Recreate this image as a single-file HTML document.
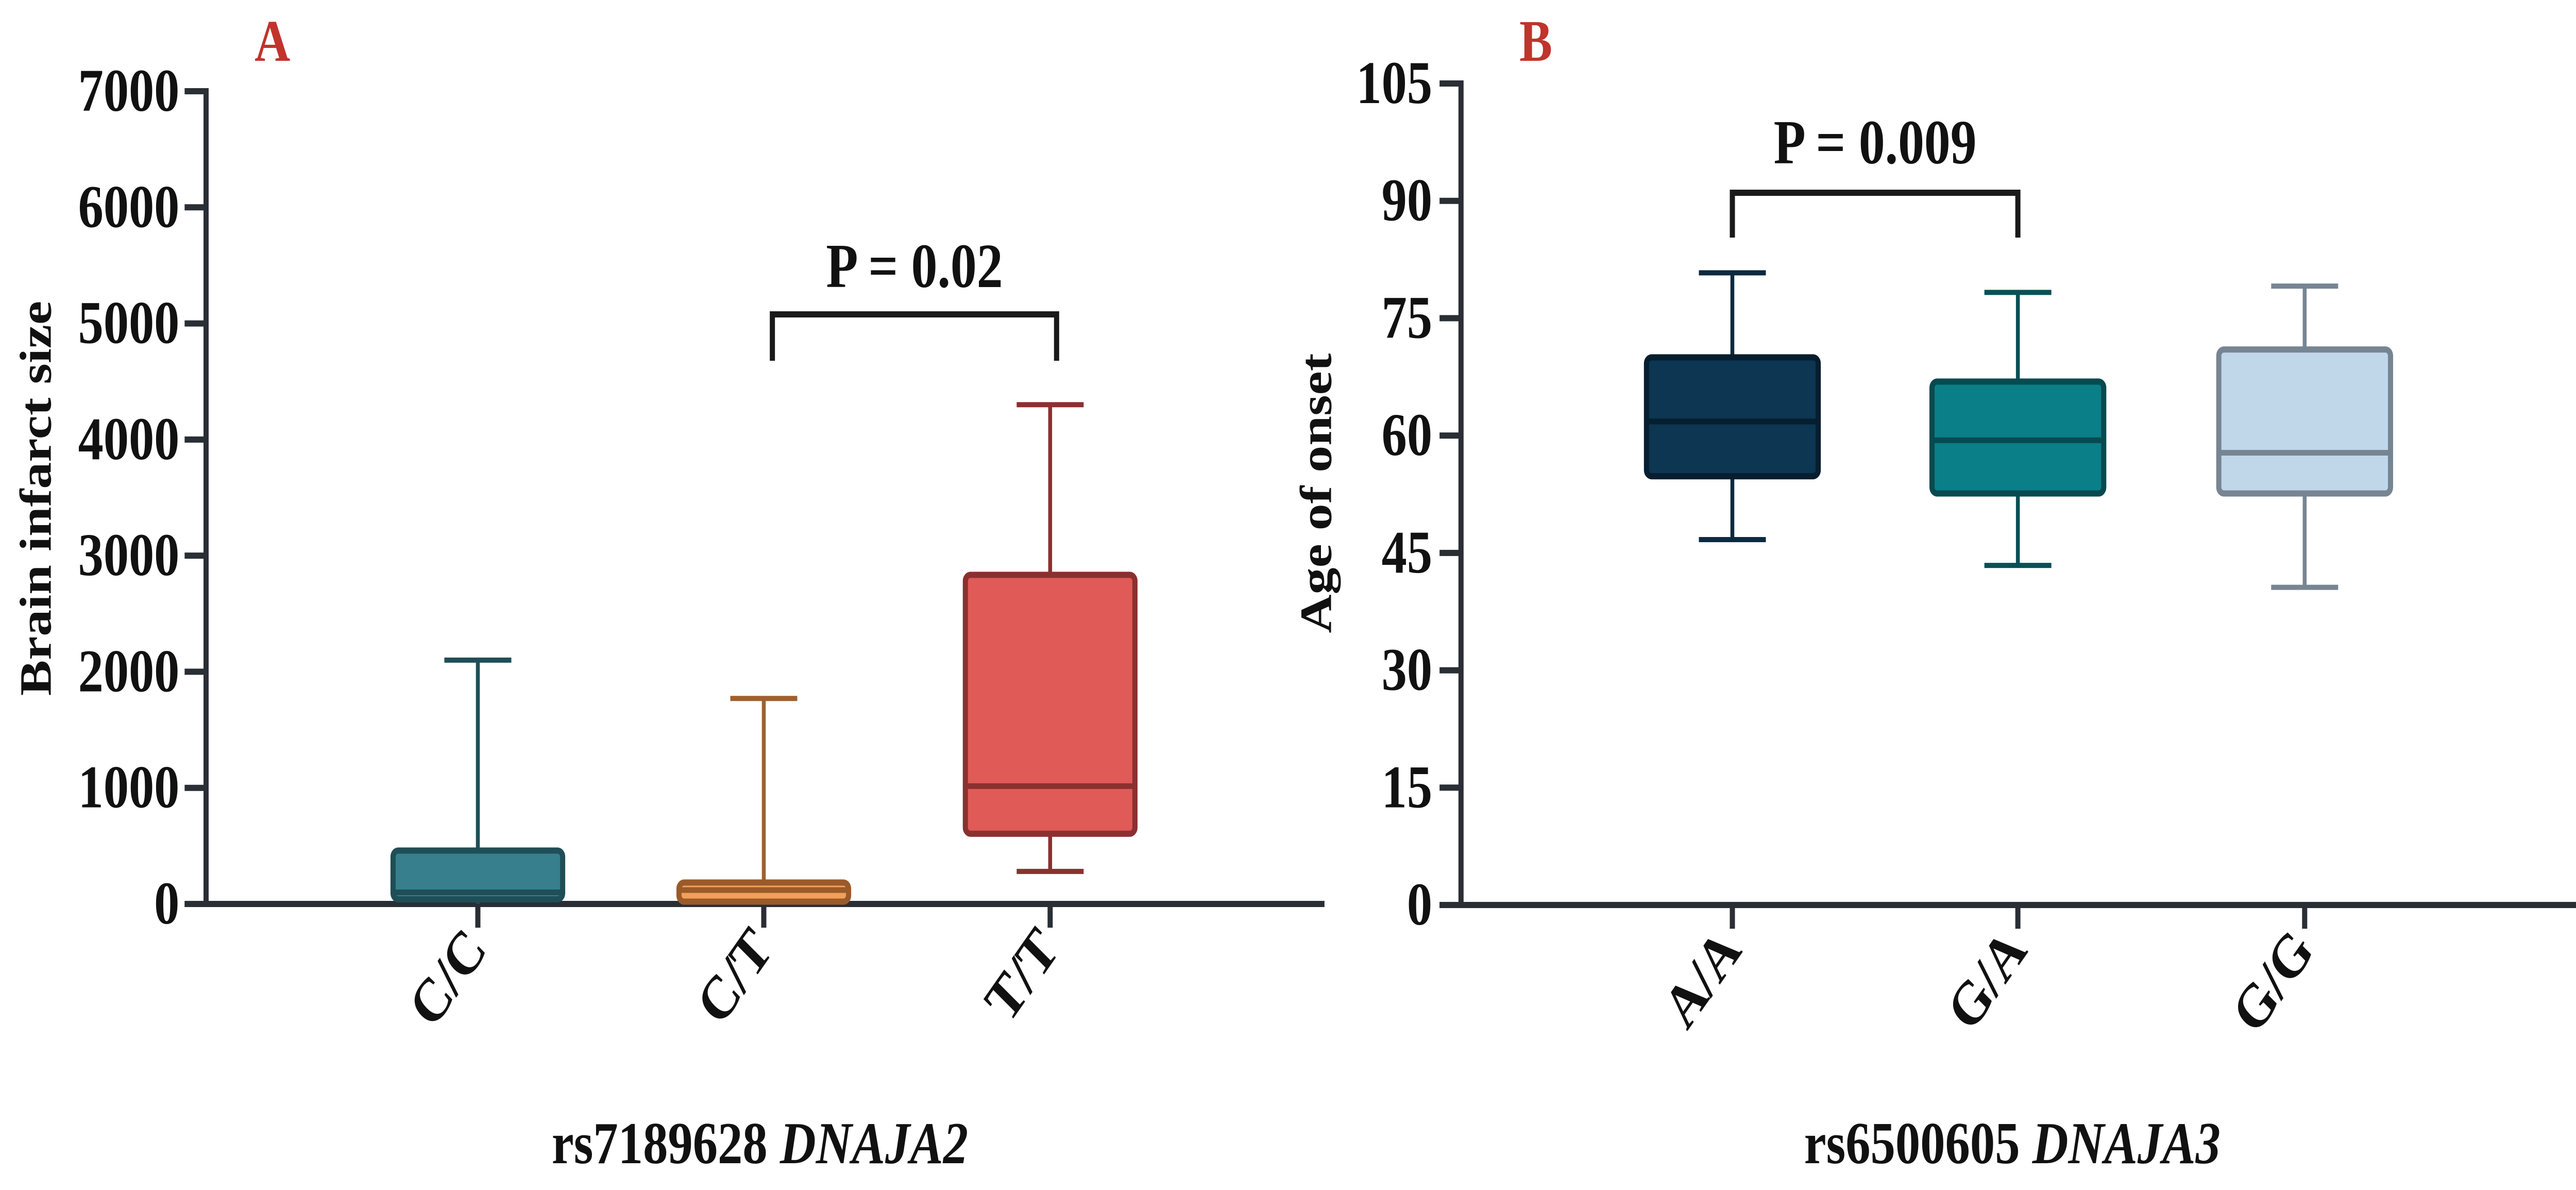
<!DOCTYPE html>
<html><head><meta charset="utf-8"><style>
html,body{margin:0;padding:0;background:#fff;overflow:hidden;width:100%;height:100%;}
svg{display:block;width:100vw;height:100vh;}
text{font-family:"Liberation Serif",serif;font-weight:bold;fill:#111;}
</style></head><body>
<svg id="chart" viewBox="0 0 6000 2309" preserveAspectRatio="none" xmlns="http://www.w3.org/2000/svg"></svg>
<script>
// Panel A data
const catsA = ["C/C","C/T","T/T"];
const minA = [0, 0, 280];
const q1A = [40, 20, 605];
const medA = [100, 120, 1015];
const q3A = [460, 185, 2835];
const maxA = [2100, 1770, 4300];
const ticksA = [0,1000,2000,3000,4000,5000,6000,7000];
// Panel B data
const catsB = ["A/A","G/A","G/G"];
const minB = [46.7, 43.4, 40.6];
const q1B = [54.8, 52.6, 52.6];
const medB = [61.8, 59.4, 57.8];
const q3B = [70, 66.9, 71];
const maxB = [80.8, 78.3, 79.1];
const ticksB = [0,15,30,45,60,75,90,105];

const NS="http://www.w3.org/2000/svg";
const svg=document.getElementById('chart');
function el(tag,attrs,parent){const e=document.createElementNS(NS,tag);for(const k in attrs)e.setAttribute(k,attrs[k]);(parent||svg).appendChild(e);return e;}

function panel(cfg){
  const g=el('g',{});
  
  
  const y=v=>cfg.y0-(v-cfg.vmin)/(cfg.vmax-cfg.vmin)*(cfg.y0-cfg.y1);
  const ya=el('line',{x1:cfg.ax,y1:y(cfg.vmax)-6,x2:cfg.ax,y2:cfg.y0+6,stroke:'#2a2e35','stroke-width':12},g);
  
  
  const xa=el('line',{x1:cfg.ax-50,y1:cfg.y0,x2:cfg.xend,y2:cfg.y0,stroke:'#2a2e35','stroke-width':12},g);
  
  
  cfg.ticks.forEach(t=>{
    const tl=el('line',{x1:cfg.ax-50,y1:y(t),x2:cfg.ax,y2:y(t),stroke:'#2a2e35','stroke-width':12},g);
    
    
    const tx=el('text',{x:cfg.labR,y:y(t)+38,'text-anchor':'end','font-size':118},g);
    tx.textContent=t;
    
    
  });
  cfg.cats.forEach((c,i)=>{
    const cx=cfg.cx[i];
    const tk=el('line',{x1:cx,y1:cfg.y0,x2:cx,y2:cfg.y0+46,stroke:'#2a2e35','stroke-width':12},g);
    
    
    const lb=el('text',{x:0,y:0,'text-anchor':'end','font-size':118,transform:`translate(${cx+25},${cfg.y0+90}) rotate(-50)`},g);
    lb.textContent=c;
    
    
    const col=cfg.colors[i];
    const bw=cfg.bw;
    const wh=el('line',{x1:cx,y1:y(cfg.max[i]),x2:cx,y2:y(cfg.min[i]),stroke:col.line,'stroke-width':9},g);
    
    
    [cfg.max[i],cfg.min[i]].forEach(v=>{
      if(v<=cfg.vmin)return;
      const cap=el('line',{x1:cx-78,y1:y(v),x2:cx+78,y2:y(v),stroke:col.line,'stroke-width':10},g);
      
      
    });
    const bx=el('rect',{x:cx-bw/2,y:y(cfg.q3[i]),width:bw,height:y(cfg.q1[i])-y(cfg.q3[i]),rx:12,fill:col.fill,stroke:col.stroke,'stroke-width':12},g);
    
    
    const md=el('line',{x1:cx-bw/2,y1:y(cfg.med[i]),x2:cx+bw/2,y2:y(cfg.med[i]),stroke:col.stroke,'stroke-width':11},g);
    
    
  });
  const b=cfg.br;
  const br=el('path',{d:`M${b.x1},${b.yb} V${b.yt} H${b.x2} V${b.yb}`,fill:'none',stroke:'#1a1a1a','stroke-width':12},g);
  
  
  const pt=el('text',{x:(b.x1+b.x2)/2,y:b.ty,'text-anchor':'middle','font-size':122},g);
  pt.textContent=b.text;
  
  
  const pl=el('text',{x:cfg.letterX,y:118,'font-size':115,style:'fill:#c0342c'},g);
  pl.textContent=cfg.letter;
  
  
  const yt=el('text',{x:0,y:0,'text-anchor':'middle','font-size':104,transform:`translate(${cfg.ytX},${cfg.ytY}) rotate(-90)`},g);
  yt.textContent=cfg.ytitle;
  
  
  const xt=el('text',{x:cfg.xtX,y:2257,'text-anchor':'middle','font-size':116},g);
  xt.innerHTML=cfg.xtitle;
  
  
}

panel({name:'panel-a',ax:480,xend:3085,y0:1754,y1:177,vmin:0,vmax:7000,ticks:ticksA,labR:418,
  cats:catsA,cx:[1113,1779,2446],bw:395,min:minA,q1:q1A,med:medA,q3:q3A,max:maxA,
  colors:[{fill:'#377f8c',stroke:'#1f4e57',line:'#1f4e57'},{fill:'#f0a05a',stroke:'#9a5a2a',line:'#a0602e'},{fill:'#e05a57',stroke:'#8b3030',line:'#8b3030'}],
  br:{x1:1799,x2:2461,yt:610,yb:700,ty:557,text:'P = 0.02'},letter:'A',letterX:593,
  ytitle:'Brain infarct size',ytX:118,ytY:967,xtX:1770,xtitle:'rs7189628 <tspan font-style="italic">DNAJA2</tspan>'});
panel({name:'panel-b',ax:3403,xend:6000,y0:1756,y1:162,vmin:0,vmax:105,ticks:ticksB,labR:3336,
  cats:catsB,cx:[4035,4700,5368],bw:400,min:minB,q1:q1B,med:medB,q3:q3B,max:maxB,
  colors:[{fill:'#0c3651',stroke:'#061e30',line:'#0c2a3f'},{fill:'#0a7f87',stroke:'#064a50',line:'#0b4f55'},{fill:'#c0d7ea',stroke:'#778593',line:'#778593'}],
  br:{x1:4035,x2:4700,yt:374,yb:461,ty:317,text:'P = 0.009'},letter:'B',letterX:3539,
  ytitle:'Age of onset',ytX:3100,ytY:957,xtX:4687,xtitle:'rs6500605 <tspan font-style="italic">DNAJA3</tspan>'});
</script>
</body></html>
